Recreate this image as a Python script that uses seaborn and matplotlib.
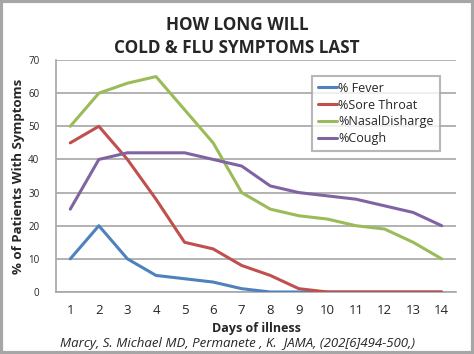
import pandas as pd
import matplotlib.pyplot as plt
import seaborn as sns

days = list(range(1, 15))
fever = [10, 20, 10, 5, 4, 3, 1, 0, 0, 0, 0, 0, 0, 0]
sore_throat = [45, 50, 40, 28, 15, 13, 8, 5, 1, 0, 0, 0, 0, 0]
nasal = [50, 60, 63, 65, 55, 45, 30, 25, 23, 22, 20, 19, 15, 10]
cough = [25, 40, 42, 42, 42, 40, 38, 32, 30, 29, 28, 26, 24, 20]

names = ['% Fever', '%Sore Throat', '%NasalDisharge', '%Cough']
colors = ['#4F81BD', '#C0504D', '#9BBB59', '#8064A2']

df = pd.DataFrame({'Day': days, names[0]: fever, names[1]: sore_throat,
                   names[2]: nasal, names[3]: cough})
long = df.melt(id_vars='Day', var_name='Symptom', value_name='Pct')

sns.set_style('white')
plt.rcParams['font.family'] = ['Open Sans', 'DejaVu Sans']

fig = plt.figure(figsize=(4.74, 3.54), dpi=100)
ax = fig.add_axes([56 / 474, 1 - 292 / 354, 400 / 474, 232 / 354])

sns.lineplot(data=long, x='Day', y='Pct', hue='Symptom', palette=colors,
             hue_order=names, linewidth=2.2, ax=ax, zorder=3)

ax.set_xlim(0.5, 14.5)
ax.set_ylim(0, 70)
ax.set_xticks(days)
ax.set_yticks(range(0, 71, 10))
ax.tick_params(axis='x', labelsize=9.5, length=0, pad=9)
ax.tick_params(axis='y', labelsize=7, length=0, pad=12)
ax.yaxis.grid(True, color='#A6A6A6', linewidth=1.2)
for s in ['top', 'right']:
    ax.spines[s].set_visible(False)
for s in ['left', 'bottom']:
    ax.spines[s].set_color('#A6A6A6')
    ax.spines[s].set_linewidth(1.2)

ax.set_xlabel('Days of illness', fontsize=9, fontweight='bold', labelpad=3)
ax.set_ylabel('% of Patients With Symptoms', fontsize=9.5, fontweight='bold', labelpad=2)

leg = ax.legend(loc='upper right', bbox_to_anchor=(0.975, 0.96), fontsize=9,
                handlelength=1.5, handletextpad=0.1, labelspacing=0.3,
                frameon=True, fancybox=False, borderpad=0.5)
leg.get_frame().set_edgecolor('#A6A6A6')
leg.get_frame().set_linewidth(1.5)

fig.text(0.5, 1 - 25 / 354, 'HOW LONG WILL', ha='center', va='center',
         fontsize=12.3, fontweight='bold')
fig.text(0.5, 1 - 48 / 354, 'COLD & FLU SYMPTOMS LAST', ha='center', va='center',
         fontsize=12.3, fontweight='bold')
fig.text(0.5, 1 - 344 / 354, 'Marcy, S. Michael MD, Permanete , K.  JAMA, (202[6]494-500,)',
         ha='center', va='center', fontsize=9.5, style='italic')

fig.patches.append(plt.Rectangle((0.003, 0.004), 0.994, 0.992, transform=fig.transFigure,
                                 fill=False, edgecolor='#A6A6A6', linewidth=3))

fig.savefig('out.png', dpi=100)
